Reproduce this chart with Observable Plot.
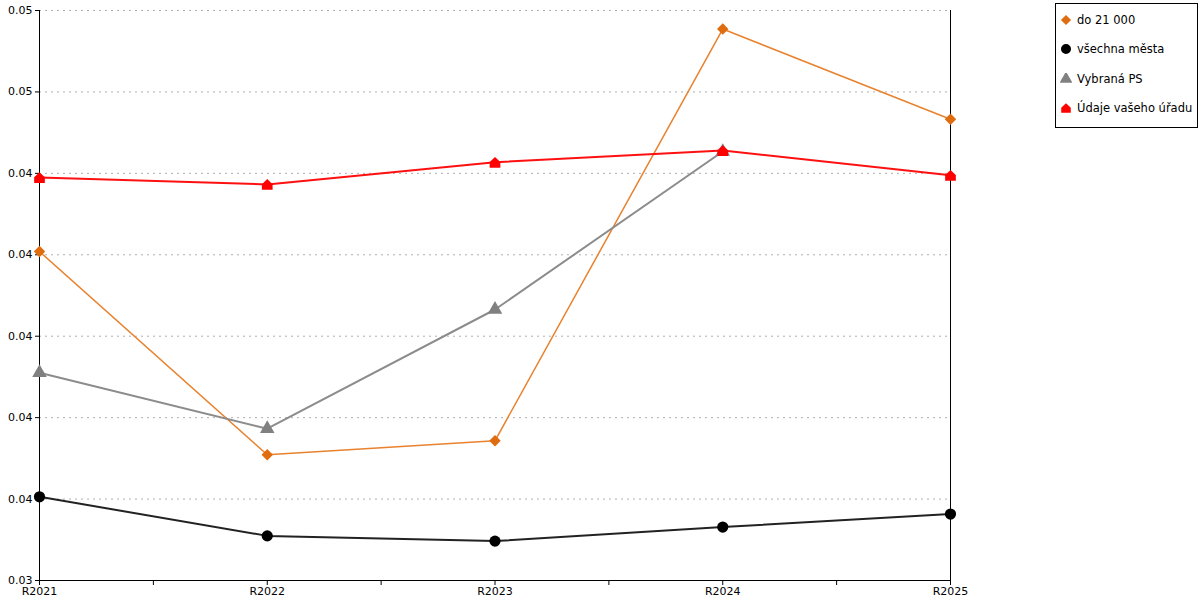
<!DOCTYPE html>
<html><head><meta charset="utf-8">
<script src="https://cdn.jsdelivr.net/npm/d3@7"></script>
<script src="https://cdn.jsdelivr.net/npm/@observablehq/plot@0.6"></script>
<style>
body{margin:0;background:#fff;font-family:"DejaVu Sans",sans-serif;}
#wrap{position:relative;width:1200px;height:600px;}
#legend{position:absolute;left:1055px;top:3px;width:141px;height:123px;border:1px solid #000;background:#fff;font-size:11.5px;color:#000;}
#legend .item{position:absolute;left:4px;height:14px;display:flex;align-items:center;white-space:nowrap;}
#legend svg{margin-right:5px;}
</style>
</head><body>
<div id="wrap"><div id="legend"></div></div>
<script>
const categories = ["R2021","R2022","R2023","R2024","R2025"];
const seriesNames = ["do 21 000","všechna města","Vybraná PS","Údaje vašeho úřadu"];
const do21000 = [0.0426, 0.03636, 0.03679, 0.04943, 0.04666];
const vsechnaMesta = [0.03507, 0.03387, 0.03371, 0.03414, 0.03454];
const vybranaPS = [0.03888, 0.03716, 0.04082, 0.04567, null];
const udajeUradu = [0.04487, 0.04466, 0.04534, 0.04570, 0.04494];
const yTicks = [0.0325, 0.035, 0.0375, 0.04, 0.0425, 0.045, 0.0475, 0.05];
const yTickLabels = ["0.03","0.04","0.04","0.04","0.04","0.04","0.05","0.05"];
const seriesColors = ["#e06c10", "#000000", "#808080", "#ff0000"];
const lineColors = ["#e8822e", "#222222", "#8c8c8c", "#ff1010"];

const house = {
  draw(ctx, size) {
    const s = Math.sqrt(size) * 0.58;
    ctx.moveTo(0, -s);
    ctx.lineTo(s, -s * 0.05);
    ctx.lineTo(s, s);
    ctx.lineTo(-s, s);
    ctx.lineTo(-s, -s * 0.05);
    ctx.closePath();
  }
};
const diamond = {
  draw(ctx, size) {
    const s = Math.sqrt(size) * 0.62;
    ctx.moveTo(0, -s);
    ctx.lineTo(s, 0);
    ctx.lineTo(0, s);
    ctx.lineTo(-s, 0);
    ctx.closePath();
  }
};
const symbols = [diamond, d3.symbolCircle, d3.symbolTriangle, house];
const radii = [5.2, 5.6, 5.4, 5.2];
const values = [do21000, vsechnaMesta, vybranaPS, udajeUradu];

const rows = values.map((vals, s) => categories.map((c, j) => ({series: seriesNames[s], s, x: j, y: vals[j]})));
const xTicks = d3.range(0, categories.length - 0.99, 0.5);

const marks = [
  Plot.gridY({ticks: yTicks, stroke: "#b0b0b0", strokeOpacity: 1, strokeDasharray: "2,4"}),
  Plot.ruleX([0], {stroke: "#000"}),
  Plot.ruleX([categories.length - 1], {stroke: "#000"}),
  Plot.ruleY([yTicks[0]], {stroke: "#000"}),
  Plot.axisY({ticks: yTicks, tickFormat: d => yTickLabels[yTicks.indexOf(d)], tickSize: 4, tickPadding: 3, label: null, stroke: "#000"}),
  Plot.axisX({ticks: xTicks, tickFormat: d => Number.isInteger(d) ? categories[d] : "", tickSize: 5, tickPadding: 2, label: null})
];
rows.forEach((data, s) => {
  marks.push(Plot.line(data.filter(d => d.y != null), {x: "x", y: "y", stroke: lineColors[s], strokeWidth: s === 0 ? 1.5 : 2}));
});
rows.forEach((data, s) => {
  marks.push(Plot.dot(data.filter(d => d.y != null), {x: "x", y: "y", symbol: symbols[s], r: radii[s], fill: seriesColors[s], stroke: "none"}));
});

const chart = Plot.plot({
  width: 1200,
  height: 600,
  marginLeft: 39,
  marginRight: 250,
  marginTop: 10,
  marginBottom: 20,
  style: {fontFamily: "DejaVu Sans, sans-serif", fontSize: "11px", color: "#000", background: "#fff"},
  x: {type: "linear", domain: [0, categories.length - 1]},
  y: {domain: [yTicks[0], yTicks[yTicks.length - 1]]},
  marks
});
const wrap = document.getElementById("wrap");
wrap.insertBefore(chart, wrap.firstChild);

const legend = document.getElementById("legend");
const itemTops = [9, 38, 68, 97];
seriesNames.forEach((name, s) => {
  const item = document.createElement("div");
  item.className = "item";
  item.style.top = itemTops[s] + "px";
  const size = Math.PI * radii[s] * radii[s] * 0.8;
  const path = d3.symbol(symbols[s], size)();
  item.innerHTML = `<svg width="12" height="12" viewBox="-6 -6 12 12"><path d="${path}" fill="${seriesColors[s]}"></path></svg><span>${name}</span>`;
  legend.appendChild(item);
});
</script>
</body></html>
